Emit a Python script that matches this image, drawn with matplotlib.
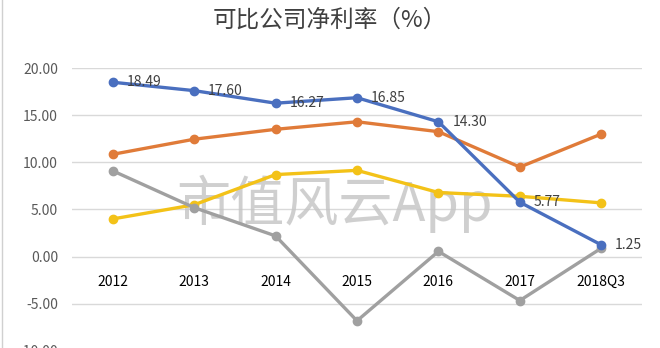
import numpy as np
import matplotlib.pyplot as plt
from matplotlib.lines import Line2D

plt.rcParams['font.family'] = ['Noto Sans CJK SC', 'DejaVu Sans']

# 各公司净利率 (%)
years = ['2012', '2013', '2014', '2015', '2016', '2017', '2018Q3']
blue = [18.49, 17.60, 16.27, 16.85, 14.30, 5.77, 1.25]
orange = [10.85, 12.45, 13.5, 14.3, 13.25, 9.5, 13.0]
yellow = [4.0, 5.5, 8.7, 9.15, 6.8, 6.4, 5.7]
gray = [9.1, 5.2, 2.2, -6.8, 0.56, -4.65, 0.9]
yticks = [20, 15, 10, 5, 0, -5, -10]

fig = plt.figure(figsize=(6.6, 3.48), dpi=100)
ax = fig.add_axes([72 / 660, 1 - 351 / 348, 570 / 660, (351 - 68) / 348])

x = np.arange(len(years))
ax.set_xlim(-0.5, len(years) - 0.5)
ax.set_ylim(-10, 20)

for v in yticks:
    ax.axhline(v, color='#d9d9d9', lw=1.0, zorder=1)

# watermark
ax.text(2.73, 5.6, '市值风云App', fontsize=39, color='#c4c4c4', alpha=0.8,
        ha='center', va='center', fontweight='light', zorder=2)

series = [(orange, '#e07b39'), (yellow, '#f3c218'), (gray, '#a0a0a0'), (blue, '#4a6fbf')]
for vals, c in series:
    ax.plot(x, vals, color=c, lw=2.4, marker='o', ms=6, zorder=4,
            solid_capstyle='round')

for xi, v in zip(x, blue):
    ax.annotate(f'{v:.2f}', (xi, v), xytext=(10, 0), textcoords='offset points',
                ha='left', va='center', fontsize=10, color='#404040', zorder=5)

ax.set_yticks(yticks)
ax.set_yticklabels([f'{v:.2f}' for v in yticks], fontsize=10, color='#595959')
ax.set_xticks(x)
ax.set_xticklabels(years, fontsize=10, color='#595959')
ax.spines['bottom'].set_position(('data', 0))
for s in ax.spines.values():
    s.set_visible(False)
ax.tick_params(axis='both', length=0)
ax.tick_params(axis='y', pad=10)
ax.tick_params(axis='x', pad=13)

fig.text(0.5, 1 - 20 / 348, '可比公司净利率（%）', ha='center', va='center',
         fontsize=17, color='#404040', fontweight='light')

fig.add_artist(Line2D([2 / 660, 2 / 660], [0, 1], color='#d0d0d0', lw=1))

fig.savefig('out.png', dpi=100)
